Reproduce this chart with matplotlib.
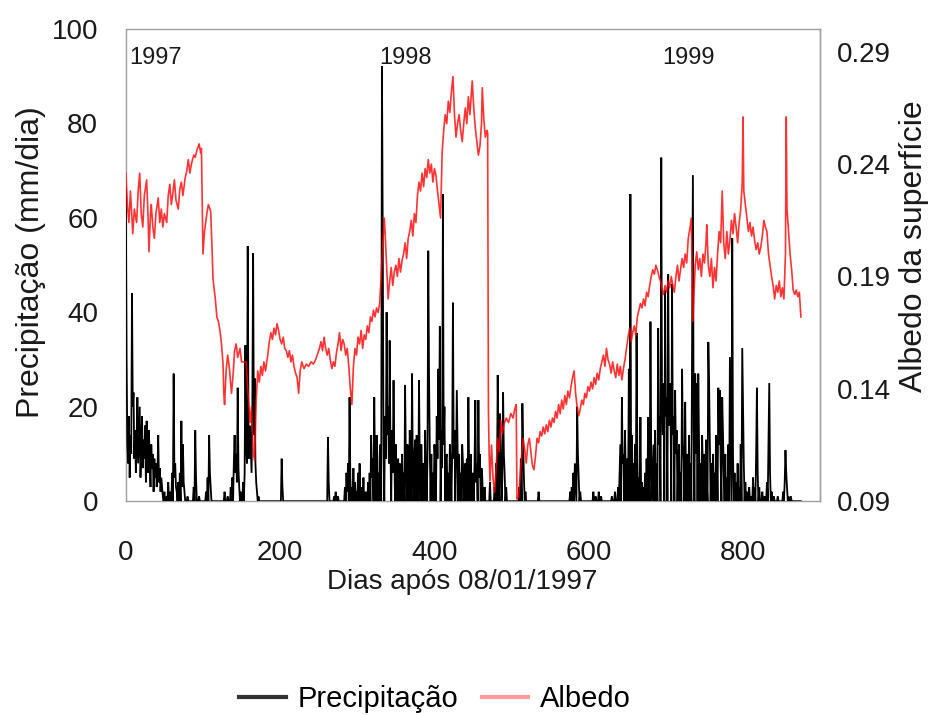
import numpy as np
import matplotlib
matplotlib.use("Agg")
import matplotlib.pyplot as plt
from matplotlib.lines import Line2D

plt.rcParams['font.family'] = ['Liberation Sans', 'DejaVu Sans']

# ---------------- data ----------------
# Days with rain (days not listed = 0 mm)
precip_days = [
    0, 1, 2, 3, 4, 5, 6, 7, 8, 9, 10, 11, 12, 13, 14, 15, 16, 17, 18, 19, 20, 21, 22, 23, 24,
    25, 26, 27, 28, 29, 30, 31, 32, 33, 34, 35, 36, 37, 38, 39, 40, 41, 42, 43, 44, 45, 46, 47,
    48, 50, 53, 55, 58, 60, 62, 63, 64, 65, 66, 68, 70, 72, 73, 74, 75, 76, 80, 88, 90, 91, 95,
    104, 106, 108, 109, 110,
    128, 132, 136, 138, 140, 141, 142, 143, 144, 145, 146, 147, 149, 152, 154, 155, 156, 157,
    158, 159, 160, 161, 162, 163, 164, 165, 166, 167, 168, 169, 170, 172,
    202, 203, 262, 263, 270, 272, 275,
    284, 286, 287, 288, 290, 291, 293, 295, 297, 299, 301, 303, 305, 308, 311, 314, 316, 318,
    319, 320, 322, 323, 325, 326, 328, 330, 332, 333, 334, 336, 337, 338, 339, 340, 341, 342,
    343, 345, 346, 347, 348, 350, 352, 353, 355, 356, 358, 360, 362, 363, 365, 366, 368, 369,
    371, 372, 374, 375, 377, 378, 380, 381, 383, 384, 386, 388, 389, 391, 392, 393, 394, 396,
    398, 400, 401, 403, 404, 405, 406, 407, 409, 410, 411, 412, 413, 415, 416, 418, 420, 421,
    423, 424, 425, 426, 428, 429, 430, 432, 434, 436, 437, 439, 440, 442, 444, 445, 447, 449,
    450, 452, 453, 454, 455, 457, 458, 459, 461, 462, 465,
    472, 478, 480, 482, 483, 485, 486, 488, 489, 490, 491, 493, 510, 512, 514, 515, 516, 518,
    535, 576, 578, 580, 582, 583, 585, 586, 587, 589, 606, 609, 613, 616, 630, 634,
    638, 640, 641, 643, 644, 645, 647, 648, 650, 652, 654, 656, 658, 660, 662, 663, 665, 667,
    669, 671, 673, 675, 677, 678, 680, 681, 683, 684, 686, 688, 690, 691, 692, 694, 695, 696,
    697, 699, 700, 701, 703, 704, 705, 706, 708, 709, 710, 712, 713, 714, 716, 717, 719, 721,
    722, 723, 725, 726, 728, 730, 732, 734, 735, 736, 738, 739, 740, 742, 743, 745, 747, 748,
    750, 752, 753, 755, 756, 757, 759, 761, 763, 765, 766, 768, 769, 770, 771, 773, 774, 775,
    777, 779, 781, 783, 784, 786, 787, 789, 791, 793, 795, 797, 799, 800, 801, 803, 805, 808,
    810, 813, 815, 817, 818, 819, 821, 825, 828, 831, 833, 834, 835, 837, 840, 845, 852, 854,
    855, 856, 857, 859, 862,
]
precip_values = [
    66, 30, 12, 8, 18, 5, 14, 10, 44, 20, 23, 9, 15, 6, 12, 22, 8, 14, 20, 5, 11, 18, 7, 13, 9,
    16, 4, 17, 10, 6, 15, 8, 3, 12, 7, 10, 2, 9, 5, 8, 3, 6, 14, 4, 7, 2, 5, 3,
    1, 2, 1, 4, 2, 6, 27, 5, 8, 3, 2, 4, 6, 17, 3, 12, 4, 2, 1, 3, 15, 5, 1,
    2, 5, 14, 6, 3,
    2, 1, 3, 5, 8, 14, 6, 10, 4, 24, 7, 3, 2, 4, 6, 33, 12, 8,
    54, 15, 9, 16, 11, 6, 20, 52.5, 14, 26, 8, 4, 2, 1,
    9, 3, 13.5, 4, 1, 2, 1,
    3, 6, 2, 8, 22, 5, 3, 7, 4, 2, 6, 8, 3, 5, 2, 4, 6, 14,
    5, 9, 22, 7, 14, 10, 6, 12, 92, 57, 12, 18, 9, 40, 14, 20, 8, 34,
    11, 15, 6, 25.6, 10, 12, 7, 9, 8, 5, 10, 6, 24.6, 8, 12, 5, 15, 9,
    27, 7, 10, 13, 14, 6, 25.6, 8, 12, 5, 8, 15, 6, 9, 53, 27, 11, 10,
    6, 12, 8, 18, 9, 28, 13, 37, 15, 7, 65, 12, 20, 9, 10, 6, 12, 8,
    10, 42, 9, 15, 7, 23.5, 11, 10, 6, 12, 8, 5, 8, 9, 22, 6, 10, 5,
    6, 8, 21.4, 4, 8, 21.4, 5, 10, 7, 5, 3,
    4, 3, 8, 26.7, 12, 18.6, 9, 5, 23, 10, 6, 3, 3, 9, 20.7, 12, 5, 2,
    2, 2, 3, 6, 8, 4, 20, 10, 5, 2, 2, 1, 2, 1, 1, 2,
    3, 6, 12, 22, 8, 10, 15, 6, 9, 28, 65, 14, 8, 12, 35.6, 10, 5, 17.8,
    4, 3, 6, 9, 17.8, 5, 38, 10, 6, 12, 15, 8, 36.6, 12, 18, 72.7, 20, 14,
    25, 44.7, 18, 22, 48, 16, 25, 20, 46, 14, 18, 23.5, 10, 15, 8, 12, 6, 28,
    12, 9, 21, 5, 10, 14, 8, 34.7, 69, 15, 27, 10, 25, 27, 12, 8, 14, 6,
    10, 13, 4, 33.7, 25, 12, 8, 10, 6, 14, 9, 24, 12, 23.5, 8, 22, 14.6, 6,
    10, 5, 12, 30.5, 15, 55.7, 10, 6, 4, 8, 3, 12, 32.4, 21, 8, 4, 2, 3,
    1, 5, 3, 10, 24, 6, 3, 2, 1, 4, 13, 25, 6, 2, 1, 1, 2, 4,
    10.8, 6, 3, 1, 1,
]

albedo_days = [
    0, 2, 4, 6, 9, 11, 14, 16, 18, 20, 22, 24, 27, 29, 30, 32, 33, 35, 37, 39, 42, 44, 46, 48,
    50, 53, 55, 57, 59, 61, 63, 65, 68, 70, 72, 74, 77, 79, 81, 83, 85, 88, 90, 92, 95, 97, 98,
    100, 102, 105, 107, 110, 112, 113, 116, 118, 120, 122, 124, 126, 127, 128, 130, 132, 134,
    137, 139, 141, 143, 145, 148, 150, 153, 156, 158, 161, 163, 165, 167, 169, 171, 173, 175,
    177, 179, 181, 184, 186, 188, 190, 192, 194, 196, 198, 200, 202, 204, 206, 208, 210, 212,
    214, 216, 218, 220, 222, 224, 226, 228, 231, 234, 237, 240, 243, 246, 249, 251, 253, 255,
    257, 259, 261, 263, 265, 267, 269, 271, 273, 275, 277, 279, 281, 283, 285, 287, 289, 291,
    293, 295, 297, 299, 301, 303, 305, 307, 309, 311, 313, 315, 317, 319, 321, 323, 325, 327,
    329, 331, 333, 335, 336, 338, 340, 342, 344, 346, 348, 350, 352, 354, 356, 358, 360, 362,
    364, 366, 368, 370, 372, 374, 376, 378, 380, 382, 384, 386, 388, 390, 392, 394, 396, 398,
    400, 402, 404, 406, 408, 410, 412, 414, 416, 418, 420, 422, 424, 426, 428, 430, 432, 434,
    436, 438, 440, 442, 444, 446, 448, 449, 451, 453, 455, 457, 459, 461, 462, 464, 466, 468,
    469, 470, 471, 472, 474, 476, 478, 480, 482, 484, 486, 488, 490, 493, 496, 499, 502, 504,
    506, 507, 509, 511, 513, 515, 517, 519, 521, 523, 525, 527, 529, 531, 533, 535, 537, 539,
    541, 543, 545, 547, 549, 551, 553, 555, 557, 559, 561, 563, 565, 567, 569, 571, 573, 575,
    577, 579, 581, 583, 585, 587, 589, 591, 593, 595, 597, 599, 601, 603, 605, 607, 609, 611,
    613, 615, 617, 619, 621, 623, 625, 627, 629, 631, 633, 635, 637, 639, 641, 643, 645, 647,
    649, 651, 653, 655, 657, 659, 661, 663, 665, 667, 669, 671, 673, 675, 677, 679, 681, 683,
    685, 687, 689, 691, 693, 695, 697, 699, 701, 703, 705, 707, 709, 711, 713, 715, 717, 719,
    721, 723, 725, 727, 729, 731, 733, 735, 736, 738, 740, 742, 744, 746, 748, 750, 752, 753,
    755, 757, 759, 761, 763, 765, 767, 769, 771, 773, 775, 777, 779, 781, 783, 785, 787, 789,
    791, 793, 795, 797, 799, 800, 801, 803, 805, 807, 809, 811, 813, 815, 817, 819, 821, 823,
    825, 827, 829, 831, 833, 835, 837, 839, 841, 843, 845, 847, 849, 851, 853, 855, 856, 857,
    859, 861, 863, 865, 867, 869, 871, 873, 875,
]
albedo_values = [
    0.236, 0.222, 0.214, 0.228, 0.209, 0.220, 0.214, 0.228, 0.236, 0.218, 0.212, 0.226, 0.233,
    0.215, 0.201, 0.218, 0.222, 0.212, 0.207, 0.218, 0.225, 0.214, 0.220, 0.212, 0.218, 0.214,
    0.226, 0.231, 0.222, 0.227, 0.233, 0.224, 0.220, 0.229, 0.232, 0.226, 0.234, 0.237, 0.242,
    0.236, 0.240, 0.244, 0.243, 0.246, 0.249, 0.245, 0.247,
    0.200, 0.210, 0.218, 0.222, 0.219, 0.200, 0.189, 0.180, 0.172, 0.170, 0.166, 0.160, 0.151,
    0.138, 0.133, 0.148, 0.155, 0.150, 0.138, 0.146, 0.157, 0.160, 0.154, 0.158, 0.152, 0.152,
    0.152, 0.140, 0.125, 0.132, 0.112, 0.108, 0.135, 0.148, 0.143, 0.150, 0.146, 0.152, 0.148,
    0.155, 0.161, 0.165, 0.162, 0.167, 0.164, 0.169, 0.166, 0.162, 0.160, 0.163, 0.158, 0.157,
    0.154, 0.157, 0.152, 0.155, 0.150, 0.147, 0.145, 0.138, 0.148, 0.152, 0.149, 0.151, 0.150,
    0.152, 0.151, 0.153, 0.156, 0.158, 0.161, 0.157, 0.163, 0.158, 0.155, 0.158, 0.153, 0.149,
    0.152, 0.150, 0.156, 0.160, 0.165, 0.157, 0.162, 0.160, 0.155, 0.158, 0.150, 0.140, 0.133,
    0.150, 0.158, 0.155, 0.163, 0.160, 0.166, 0.158, 0.164, 0.162, 0.168, 0.165, 0.172, 0.170,
    0.175, 0.172, 0.176, 0.174, 0.178, 0.190, 0.205, 0.216, 0.210, 0.195, 0.180, 0.188, 0.194,
    0.186, 0.192, 0.195, 0.190, 0.198, 0.192, 0.197, 0.200, 0.205, 0.198, 0.207, 0.210, 0.215,
    0.208, 0.218, 0.214, 0.226, 0.232, 0.228, 0.236, 0.230, 0.238, 0.234, 0.242, 0.236, 0.240,
    0.232, 0.238, 0.235, 0.228, 0.222, 0.216, 0.245, 0.255, 0.262, 0.258, 0.268, 0.263, 0.272,
    0.279, 0.262, 0.252, 0.258, 0.262, 0.255, 0.250, 0.258, 0.265, 0.258, 0.270, 0.262, 0.272,
    0.277, 0.265, 0.256, 0.250, 0.244, 0.248, 0.258, 0.274, 0.260, 0.252, 0.255, 0.254,
    0.130, 0.110, 0.099, 0.115, 0.100, 0.094, 0.105, 0.118, 0.112, 0.126, 0.120, 0.124, 0.127,
    0.125, 0.129, 0.127, 0.131, 0.133, 0.091, 0.092, 0.100, 0.110, 0.118, 0.113, 0.107, 0.115,
    0.118, 0.112, 0.106, 0.104, 0.110, 0.118, 0.116, 0.121, 0.119, 0.123, 0.120, 0.124, 0.121,
    0.126, 0.123, 0.127, 0.125, 0.130, 0.127, 0.133, 0.129, 0.135, 0.131, 0.137, 0.133, 0.139,
    0.136, 0.141, 0.145, 0.148, 0.138, 0.132, 0.128, 0.131, 0.135, 0.133, 0.138, 0.136, 0.141,
    0.139, 0.143, 0.140, 0.145, 0.142, 0.147, 0.144, 0.149, 0.152, 0.155, 0.150, 0.158, 0.153,
    0.151, 0.147, 0.152, 0.148, 0.145, 0.151, 0.146, 0.150, 0.144, 0.149, 0.153, 0.158, 0.163,
    0.167, 0.161, 0.165, 0.168, 0.164, 0.172, 0.175, 0.178, 0.176, 0.180, 0.177, 0.183, 0.181,
    0.186, 0.190, 0.193, 0.191, 0.195, 0.193, 0.190, 0.188, 0.184, 0.182, 0.186, 0.183, 0.188,
    0.185, 0.190, 0.186, 0.183, 0.190, 0.195, 0.188, 0.193, 0.198, 0.194, 0.200, 0.196, 0.207,
    0.211, 0.216, 0.170, 0.178, 0.195, 0.201, 0.193, 0.198, 0.190, 0.200, 0.196, 0.205, 0.213,
    0.195, 0.190, 0.198, 0.185, 0.194, 0.188, 0.200, 0.210, 0.205, 0.228, 0.205, 0.198, 0.210,
    0.200, 0.206, 0.215, 0.209, 0.218, 0.212, 0.205, 0.214, 0.220, 0.232, 0.261, 0.228, 0.222,
    0.216, 0.210, 0.214, 0.208, 0.212, 0.206, 0.202, 0.205, 0.200, 0.203, 0.208, 0.215, 0.212,
    0.210, 0.200, 0.195, 0.190, 0.186, 0.180, 0.186, 0.183, 0.188, 0.181, 0.185, 0.180, 0.200,
    0.261, 0.220, 0.210, 0.200, 0.193, 0.184, 0.182, 0.184, 0.181, 0.183, 0.172,
]

x_ticks = [0, 200, 400, 600, 800]
left_ticks = [0, 20, 40, 60, 80, 100]
right_ticks = [0.09, 0.14, 0.19, 0.24, 0.29]
year_labels = ["1997", "1998", "1999"]
year_label_days = [4, 329, 695]

# daily precipitation series (0 on days without rain)
last_day = 875
precip_daily = np.zeros(last_day + 1)
precip_daily[np.array(precip_days)] = precip_values
day_axis = np.arange(last_day + 1)

# ---------------- figure ----------------
fig = plt.figure(figsize=(9.46, 7.15), dpi=100)
ax = fig.add_axes([0.133, 0.299, 0.734, 0.661])
ax2 = ax.twinx()

ax.plot(day_axis, precip_daily, color='black', lw=1.3, solid_joinstyle='miter', zorder=3)
ax2.plot(albedo_days, albedo_values, color='#ff0000', lw=1.2, alpha=0.8)

ax.set_xlim(0, 900)
ax.set_ylim(0, 100)
ax2.set_ylim(0.09, 0.3003)

ax.set_xticks(x_ticks)
ax.set_yticks(left_ticks)
ax2.set_yticks(right_ticks)
ax2.set_yticklabels([f"{v:.2f}" for v in right_ticks])

ax.tick_params(axis='both', length=0, labelsize=20, colors='#1a1a1a')
ax.tick_params(axis='x', pad=28)
ax.tick_params(axis='y', pad=20)
ax2.tick_params(axis='y', length=0, labelsize=20, pad=12, colors='#1a1a1a')

for s in ax.spines.values():
    s.set_color('#a0a0a0')
    s.set_linewidth(1.0)
    s.set_zorder(2.5)
for name, s in ax2.spines.items():
    if name == 'right':
        s.set_color('#a0a0a0')
        s.set_linewidth(1.0)
    else:
        s.set_visible(False)

ax.set_xlabel("Dias após 08/01/1997", fontsize=20, labelpad=2, color='#1a1a1a')
ax.xaxis.label.set_x(0.485)
ax.set_ylabel("Precipitação (mm/dia)", fontsize=23, labelpad=4, color='#1a1a1a')
ax.yaxis.label.set_y(0.505)
ax2.set_ylabel("Albedo da superfície", fontsize=23, labelpad=6, color='#1a1a1a')
ax2.yaxis.label.set_y(0.54)

for lab, d in zip(year_labels, year_label_days):
    ax.text(d, 93.8, lab, fontsize=17, ha='left', va='center', color='#1a1a1a')

handles = [Line2D([0], [0], color='#333333', lw=3),
           Line2D([0], [0], color='#ff9a9a', lw=3)]
fig.legend(handles, ["Precipitação", "Albedo"], loc='center', bbox_to_anchor=(0.46, 0.022),
           ncol=2, frameon=False, fontsize=21, handlelength=1.6, handletextpad=0.4,
           columnspacing=0.8)

fig.savefig("out.png", dpi=100)
